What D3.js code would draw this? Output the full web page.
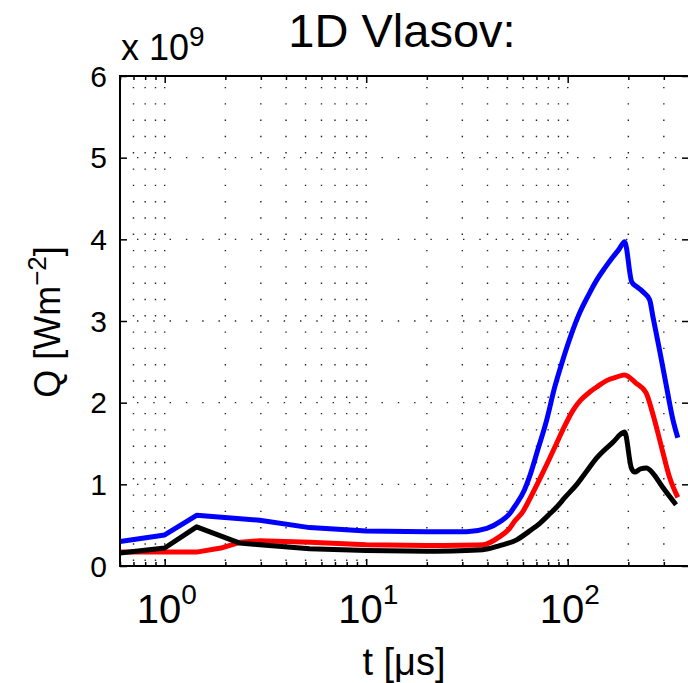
<!DOCTYPE html>
<html>
<head>
<meta charset="utf-8">
<style>
body { margin: 0; background: #ffffff; }
text { font-family: "Liberation Sans", Arial, sans-serif; fill: #000; }
.grid line { stroke: #222; stroke-width: 1.4px; stroke-dasharray: 1.4,14.9; }
.curve { fill: none; stroke-width: 5px; stroke-linejoin: round; stroke-linecap: butt; }
</style>
<script src="https://d3js.org/d3.v7.min.js"></script>
</head>
<body>
<script>

// Q in units of 1e9 W m^-2, t in microseconds
var tBlue  = [0.6, 1.0, 1.44, 2.96, 5.24, 10, 20, 31.5, 39.7, 46, 51.5, 54.6, 61, 64.8, 71, 78.7, 86, 94.5, 104, 114.7, 127, 139.3, 153, 167.2, 180, 191.7, 207.8, 220, 235.7, 255, 265, 286, 309, 333, 352];
var qBlue  = [0.30, 0.38, 0.62, 0.56, 0.47, 0.43, 0.42, 0.42, 0.46, 0.54, 0.64, 0.73, 0.93, 1.1, 1.42, 1.79, 2.18, 2.52, 2.83, 3.1, 3.32, 3.5, 3.65, 3.78, 3.88, 3.97, 3.48, 3.42, 3.36, 3.26, 3.05, 2.64, 2.2, 1.79, 1.57];

var tRed   = [0.6, 1.0, 1.44, 1.9, 2.36, 2.96, 5.24, 10, 20, 37.9, 46, 51.5, 54.6, 59.7, 64.8, 72.5, 80, 88, 96, 105.9, 116, 128.6, 141, 156, 173, 191.7, 218, 245, 264, 292, 320, 352];
var qRed   = [0.17, 0.17, 0.17, 0.22, 0.29, 0.31, 0.29, 0.26, 0.25, 0.26, 0.36, 0.46, 0.55, 0.66, 0.82, 1.06, 1.28, 1.5, 1.7, 1.9, 2.03, 2.13, 2.2, 2.27, 2.31, 2.34, 2.24, 2.12, 1.87, 1.46, 1.09, 0.84];

var tBlack = [0.6, 1.0, 1.44, 2.36, 2.96, 5.24, 10, 20, 37.9, 46, 55.8, 64.8, 72.5, 80, 88, 97, 111, 125, 139, 167, 191.7, 207, 215, 230, 246, 264, 295, 345];
var qBlack = [0.16, 0.22, 0.48, 0.28, 0.26, 0.21, 0.19, 0.18, 0.2, 0.25, 0.32, 0.43, 0.52, 0.62, 0.72, 0.84, 1.0, 1.17, 1.32, 1.51, 1.64, 1.2, 1.15, 1.19, 1.2, 1.14, 0.97, 0.75];

var yTicks = [0, 1, 2, 3, 4, 5, 6];
var xTickExp = [0, 1, 2];
var tSplit = 20;   // coarse sampling before this time, smooth after
var series = [
  { t: tBlue,  q: qBlue,  color: "#0000ff" },
  { t: tRed,   q: qRed,   color: "#ff0000" },
  { t: tBlack, q: qBlack, color: "#000000" }
];

var width = 688, height = 683;
var pLeft = 120, pRight = 689, pTop = 76, pBottom = 566;

var x = d3.scaleLog().domain([0.6, 400]).range([pLeft, pRight]);
var y = d3.scaleLinear().domain([0, 6]).range([pBottom, pTop]);

var svg = d3.select("body").append("svg")
    .attr("width", width)
    .attr("height", height);

svg.append("defs").append("clipPath").attr("id", "clip")
  .append("rect")
    .attr("x", pLeft).attr("y", pTop)
    .attr("width", pRight - pLeft).attr("height", pBottom - pTop);

// minor + major x grid positions
var xGrid = [];
[0.1, 1, 10, 100].forEach(function(d) {
  for (var k = 1; k <= 9; k++) {
    var v = d * k;
    if (v > 0.6 && v < 400) xGrid.push(v);
  }
});
var xMajor = xTickExp.map(function(e) { return Math.pow(10, e); });
var xMinor = xGrid.filter(function(d) { return xMajor.indexOf(d) < 0; });

var grid = svg.append("g").attr("class", "grid");
grid.selectAll(".vx").data(xGrid).enter().append("line")
    .attr("x1", function(d) { return x(d); })
    .attr("x2", function(d) { return x(d); })
    .attr("y1", pBottom - 5)
    .attr("y2", pTop);
grid.selectAll(".hy").data(yTicks.slice(1, -1)).enter().append("line")
    .attr("x1", pLeft + 17)
    .attr("x2", pRight)
    .attr("y1", function(d) { return y(d); })
    .attr("y2", function(d) { return y(d); });

var lineLin = d3.line()
    .x(function(d) { return x(d[0]); })
    .y(function(d) { return y(d[1]); });
var lineSmooth = d3.line()
    .curve(d3.curveMonotoneX)
    .x(function(d) { return x(d[0]); })
    .y(function(d) { return y(d[1]); });

var curves = svg.append("g").attr("clip-path", "url(#clip)");
series.forEach(function(s) {
  var pts = s.t.map(function(t, i) { return [t, s.q[i]]; });
  curves.append("path")
      .attr("class", "curve")
      .attr("stroke", s.color)
      .attr("d", lineLin(pts.filter(function(p) { return p[0] <= tSplit; })) +
                 lineSmooth(pts.filter(function(p) { return p[0] >= tSplit; })).replace(/^M/, "L"));
});

// axes box with inward ticks
function noDomain(g) { g.select(".domain").remove(); }

svg.append("g").attr("transform", "translate(0," + pBottom + ")")
    .call(d3.axisTop(x).tickValues(xMinor).tickSize(4).tickFormat("")).call(noDomain);
svg.append("g").attr("transform", "translate(0," + pBottom + ")")
    .call(d3.axisTop(x).tickValues(xMajor).tickSize(7).tickFormat("")).call(noDomain);
svg.append("g").attr("transform", "translate(0," + pTop + ")")
    .call(d3.axisBottom(x).tickValues(xMinor).tickSize(4).tickFormat("")).call(noDomain);
svg.append("g").attr("transform", "translate(0," + pTop + ")")
    .call(d3.axisBottom(x).tickValues(xMajor).tickSize(7).tickFormat("")).call(noDomain);
svg.append("g").attr("transform", "translate(" + pLeft + ",0)")
    .call(d3.axisRight(y).tickValues(yTicks).tickSize(7).tickFormat("")).call(noDomain);
svg.append("g").attr("transform", "translate(" + pRight + ",0)")
    .call(d3.axisLeft(y).tickValues(yTicks).tickSize(7).tickFormat("")).call(noDomain);
svg.selectAll(".tick line").attr("stroke", "#000").attr("stroke-width", 1.5);

svg.append("rect")
    .attr("x", pLeft).attr("y", pTop)
    .attr("width", pRight - pLeft).attr("height", pBottom - pTop)
    .attr("fill", "none").attr("stroke", "#000").attr("stroke-width", 2);

// y tick labels
svg.selectAll(".ylab").data(yTicks).enter().append("text")
    .attr("x", 107)
    .attr("y", function(d) { return y(d); })
    .attr("dy", "0.36em")
    .attr("text-anchor", "end")
    .attr("font-size", 30)
    .text(function(d) { return d; });

// x tick labels 10^n
var xl = svg.selectAll(".xlab").data(xTickExp).enter().append("text")
    .attr("x", function(d) { return x(Math.pow(10, d)) + 2; })
    .attr("y", 623)
    .attr("text-anchor", "middle");
xl.append("tspan").attr("font-size", 40).text("10");
xl.append("tspan").attr("font-size", 28).attr("dy", -19).text(function(d) { return d; });

// exponent label
var ex = svg.append("text").attr("x", 121).attr("y", 60);
ex.append("tspan").attr("font-size", 36).text("x 10");
ex.append("tspan").attr("font-size", 28).attr("dy", -14).text("9");

svg.append("text")
    .attr("x", 402)
    .attr("y", 47)
    .attr("text-anchor", "middle")
    .attr("font-size", 47)
    .text("1D Vlasov:");

svg.append("text")
    .attr("x", 404)
    .attr("y", 675)
    .attr("text-anchor", "middle")
    .attr("font-size", 38)
    .text("t [\u03bcs]");

var yl = svg.append("text")
    .attr("transform", "translate(60,322) rotate(-90)")
    .attr("text-anchor", "middle")
    .attr("font-size", 36);
yl.append("tspan").text("Q [Wm");
yl.append("tspan").attr("font-size", 26).attr("dy", -14).text("\u22122");
yl.append("tspan").attr("dy", 14).text("]");

</script>
</body>
</html>
